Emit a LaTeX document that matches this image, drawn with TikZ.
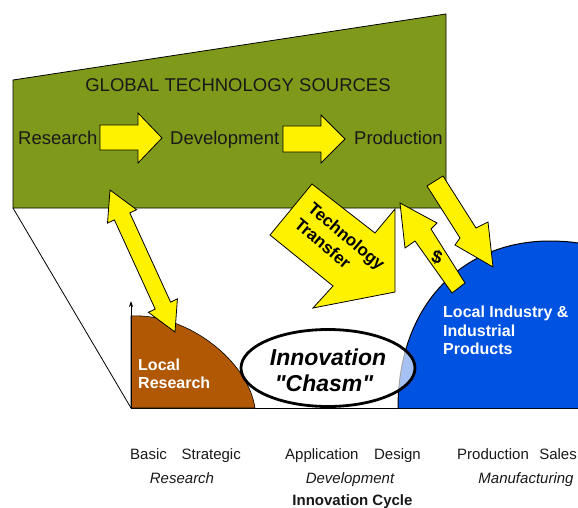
\documentclass[tikz,border=0pt]{standalone}
\usepackage{fontspec}
\setmainfont{Liberation Sans}
\newfontfamily\plainsans{Liberation Sans}
\usetikzlibrary{arrows.meta}
\definecolor{gtsgreen}{RGB}{127,153,27}
\definecolor{lrbrown}{RGB}{176,88,4}
\definecolor{libblue}{RGB}{0,82,224}
\definecolor{txtdark}{RGB}{25,25,25}
\tikzset{
  yarrow/.style={fill=yellow, draw=black, line width=0.8pt, line join=miter},
  txt/.style={inner sep=0pt, text=txtdark},
  big/.style={txt, font=\fontsize{18.5}{22}\selectfont},
  wbold/.style={inner sep=0pt, text=white, font=\bfseries\fontsize{16}{18.5}\selectfont, align=left},
  bl/.style={txt, font=\fontsize{15}{18}\selectfont},
  bli/.style={txt, font=\itshape\fontsize{15}{18}\selectfont},
  chasmtxt/.style={inner sep=0pt, text=black, font=\plainsans\bfseries\itshape\fontsize{23}{26}\selectfont},
}
\begin{document}
\begin{tikzpicture}[x=1pt,y=-1pt]
\useasboundingbox (0,0) rectangle (578,508);
\fill[white] (0,0) rectangle (578,508);
% global technology sources box
\draw[fill=gtsgreen, line width=0.8pt] (13,80) -- (446,14) -- (446,208) -- (13,208) -- cycle;
\draw[line width=0.8pt] (13,208) -- (131,408);
% baseline and axis
\draw[line width=1pt] (131,408) -- (578,408);
% local research
\draw[fill=lrbrown, line width=0.6pt] (131,408) -- (131,316) .. controls (186,313) and (248,360) .. (255,408) -- cycle;
\draw[line width=0.8pt, -{Stealth[length=6pt,width=4pt]}] (131,408) -- (131,301);
% local industry
\fill[libblue] (398,408) .. controls (398,305) and (462,242) .. (548,241) .. controls (562,241) and (572,242) .. (578,243) -- (578,408) -- cycle;
\draw[line width=1pt] (398,408) .. controls (398,305) and (462,242) .. (548,241) .. controls (562,241) and (572,242) .. (578,243);
% chasm ellipse
\draw[line width=2.8pt, fill=white, fill opacity=0.65, draw opacity=1] (328,368) ellipse [x radius=87, y radius=38.5];
% arrows in box
\draw[yarrow] (100,125) -- (138,125) -- (138,113) -- (162,138) -- (138,163) -- (138,150) -- (100,150) -- cycle;
\draw[yarrow] (283,126) -- (321,126) -- (321,115) -- (345,139) -- (321,163) -- (321,152) -- (283,152) -- cycle;
% double arrow
\draw[yarrow] (110,190) -- (136.6,209.7) -- (129.8,212.9) -- (170.6,302.1) -- (177.4,298.9) -- (175,332) -- (148.4,312.3) -- (155.2,309.1) -- (114.4,219.9) -- (107.5,223.1) -- cycle;
% technology transfer arrow
\draw[yarrow] (312,184) -- (375,233) -- (395,209) -- (395,292) -- (313,308) -- (333,286) -- (270,235) -- cycle;
% $ arrow
\draw[yarrow] (400,203) -- (405,248) -- (415,241) -- (452,293) -- (465,283) -- (431,229) -- (437,223) -- cycle;
% arrow to local industry
\draw[yarrow] (427,186) -- (443,176) -- (476,228) -- (488,222) -- (493,267) -- (455,245) -- (460,238) -- cycle;
% texts
\node[big, anchor=base] (gts) at (238,91.5) {GLOBAL TECHNOLOGY SOURCES};
\node[big, anchor=base west] (res) at (18,144) {Research};
\node[big, anchor=base west] (dev) at (170,144) {Development};
\node[big, anchor=base west] (prod) at (354,144) {Production};
\node[inner sep=0pt, font=\bfseries\fontsize{17}{21}\selectfont, align=left, rotate=-40] (tt) at (340,244) {Technology\\Transfer};
\node[inner sep=0pt, font=\bfseries\fontsize{18}{20}\selectfont, rotate=-18] (dollar) at (437,257) {\$};
\node[wbold, anchor=base west] (lr1) at (138,370) {Local};
\node[wbold, anchor=base west] (lr2) at (138,388) {Research};
\node[wbold, anchor=base west] (li1) at (443,317) {Local Industry \&};
\node[wbold, anchor=base west] (li2) at (443,336) {Industrial};
\node[wbold, anchor=base west] (li3) at (443,354.5) {Products};
\node[chasmtxt, anchor=base] (ch1) at (328,365) {Innovation};
\node[chasmtxt, anchor=base] (ch2) at (324,391) {"Chasm"};
% bottom labels
\node[bl, anchor=base west] (basic) at (130,459) {Basic};
\node[bl, anchor=base east] (strategic) at (241,459) {Strategic};
\node[bl, anchor=base west] (appl) at (285,459) {Application};
\node[bl, anchor=base east] (design) at (421,459) {Design};
\node[bl, anchor=base west] (prodl) at (457,459) {Production};
\node[bl, anchor=base east] (sales) at (577,459) {Sales};
\node[bli, anchor=base] (resl) at (182,483) {Research};
\node[bli, anchor=base] (devl) at (350,483) {Development};
\node[bli, anchor=base] (manl) at (526,483) {Manufacturing};
\node[bl, font=\bfseries\fontsize{15}{18}\selectfont, anchor=base] (cycle) at (352.5,505) {Innovation Cycle};
\end{tikzpicture}
\end{document}
